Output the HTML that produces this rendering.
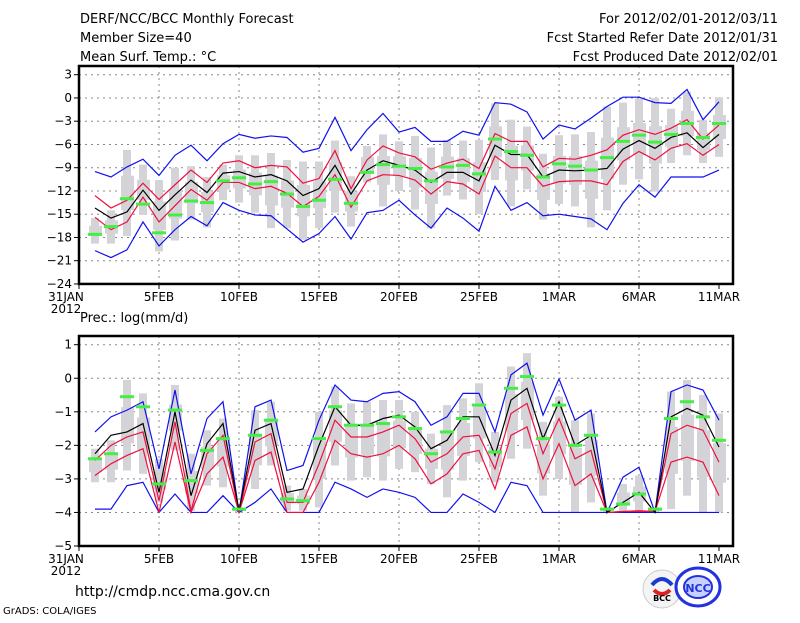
<!DOCTYPE html>
<html><head><meta charset="utf-8"><style>
body{margin:0;background:#fff;width:800px;height:618px;overflow:hidden}
svg text{font-family:"DejaVu Sans","Liberation Sans",sans-serif;fill:#000}
</style></head><body>
<svg id="s" width="800" height="618" xmlns="http://www.w3.org/2000/svg">
<text x="80" y="23" font-size="13">DERF/NCC/BCC Monthly Forecast</text>
<text x="80" y="42" font-size="13">Member Size=40</text>
<text x="80" y="61" font-size="13">Mean Surf. Temp.: °C</text>
<text x="778" y="23" font-size="13" text-anchor="end">For 2012/02/01-2012/03/11</text>
<text x="778" y="42" font-size="13" text-anchor="end">Fcst Started Refer Date 2012/01/31</text>
<text x="778" y="61" font-size="13" text-anchor="end">Fcst Produced Date 2012/02/01</text>
<text x="80" y="322" font-size="13">Prec.: log(mm/d)</text>
<text x="75" y="596" font-size="14">http://cmdp.ncc.cma.gov.cn</text>
<text x="3" y="614" font-size="10">GrADS: COLA/IGES</text>
<circle cx="662" cy="589" r="19" fill="#f4f4f4" stroke="#ccc"/>
<path d="M652 585 q10 -12 20 0" stroke="#1a3ad0" stroke-width="4" fill="none"/>
<path d="M654 590 q8 8 16 0" stroke="#e02020" stroke-width="4" fill="none"/>
<text x="662" y="601" font-size="8" text-anchor="middle" font-weight="bold">BCC</text>
<ellipse cx="698" cy="587" rx="22" ry="19" fill="#fff" stroke="#2233dd" stroke-width="3"/>
<ellipse cx="698" cy="587" rx="14" ry="11" fill="#c8d0ff" stroke="#2233dd" stroke-width="2"/>
<text x="698" y="592" font-size="11" text-anchor="middle" font-weight="bold" style="fill:#2233dd">NCC</text>
</svg>
<script>
const S=document.getElementById('s');const NS='http://www.w3.org/2000/svg';
function el(t,a){const e=document.createElementNS(NS,t);for(const k in a)e.setAttribute(k,a[k]);S.appendChild(e);return e}
function tx(x,y,s,anc,fs){const e=el('text',{x:x,y:y,'font-size':fs||12,'text-anchor':anc||'middle'});e.textContent=s;}
const X0=79,DX=16,XR=733;
function X(d){return X0+DX*d}
function plot(o){
 const Y=v=>o.y0+(o.vtop-v)*o.k;
 // grid
 for(let v=o.vtop;v>=o.vbot;v-=o.step){const y=Y(v);
  if(v>o.vbot) el('line',{x1:X0,x2:XR,y1:y,y2:y,stroke:'#888','stroke-dasharray':'2,4','stroke-width':1});
  el('line',{x1:X0-5,x2:X0,y1:y,y2:y,stroke:'#000'});
  tx(X0-7,y+4,(v<0?'−':'')+Math.abs(v),'end',12);}
 const lab=['5FEB','10FEB','15FEB','20FEB','25FEB','1MAR','6MAR','11MAR'];
 for(let i=1;i<=8;i++){const d=i*5,x=X(d);
  if(i<8)el('line',{x1:x,x2:x,y1:o.ft,y2:Y(o.vbot),stroke:'#888','stroke-dasharray':'2,4'});
  el('line',{x1:x,x2:x,y1:Y(o.vbot),y2:Y(o.vbot)+5,stroke:'#000'});
  tx(x,Y(o.vbot)+17,lab[i-1]);}
 el('line',{x1:X0,x2:X0,y1:Y(o.vbot),y2:Y(o.vbot)+5,stroke:'#000'});
 tx(X0-13,Y(o.vbot)+17,'31JAN');tx(X0-13,Y(o.vbot)+29,'2012');
 // bars
 for(let i=0;i<40;i++){const x=X(i+1),t=o.wt[i],b=o.wb[i];
  el('rect',{x:x-4,y:Y(t),width:8,height:Math.max(1,Y(b)-Y(t)),fill:'#d4d4d8'});
  const bt=t-(t-b)*0.3,bb=t-(t-b)*0.7;
  el('rect',{x:x-6,y:Y(bt),width:13,height:Y(bb)-Y(bt),fill:'#d4d4d8'});}
 const line=(a,c)=>el('polyline',{points:a.map((v,i)=>X(i+1)+','+Y(v)).join(' '),fill:'none',stroke:c,'stroke-width':1.2});
 line(o.bt,'#1010ee');line(o.bb,'#1010ee');line(o.rt,'#ee1040');line(o.rb,'#ee1040');line(o.k0,'#000');
 o.g.forEach((v,i)=>el('rect',{x:X(i+1)-7,y:Y(v)-1.5,width:14,height:3,fill:'#44ee44'}));
 el('rect',{x:X0,y:o.ft,width:XR-X0,height:Y(o.vbot)-o.ft,fill:'none',stroke:'#000','stroke-width':2.5});
}
plot({y0:74.7,vtop:3,vbot:-24,step:3,k:7.75,ft:66,
bt:[-9.5,-10.2,-8.9,-7.9,-10,-7.4,-6.1,-8.1,-5.9,-4.7,-5.2,-4.9,-5.1,-7,-6.5,-2.5,-6.8,-4.1,-2,-4.4,-3.8,-5.6,-5.6,-4.3,-4.8,-0.6,-0.8,-1.8,-5.3,-3.5,-4,-2.6,-1.1,0.1,0.1,-0.6,-0.7,1.1,-2.8,-0.5],
bb:[-19.7,-20.6,-19.6,-16,-19.1,-17,-15.3,-16.5,-13.5,-14.5,-15.1,-15.2,-16.9,-18.6,-17.5,-15.3,-18.2,-14.8,-14.5,-13.2,-15.1,-16.8,-14.2,-15.5,-17.2,-11.4,-14.5,-13.5,-15.2,-15,-15.3,-15.6,-17,-13.6,-11.2,-12.8,-10.2,-10.2,-10.2,-9.3],
rt:[-12.6,-14.2,-13.2,-11,-13.1,-11.2,-9.3,-10.9,-8.4,-8.1,-9,-8.7,-8.9,-11,-10.4,-6.8,-11.7,-8,-6.2,-7.1,-7.6,-9.2,-8.4,-7.9,-9.1,-4.6,-5.6,-5.6,-8.9,-7.8,-7.9,-7.4,-6.7,-4.8,-4.1,-4.7,-3.9,-2.8,-5.3,-3.5],
k0:[-14.2,-15.5,-14.7,-11.9,-14.5,-12.5,-10.6,-12.2,-9.7,-9.5,-10.2,-9.9,-10.7,-12.6,-11.7,-8.7,-12.4,-9.3,-8.1,-8.7,-9.3,-10.9,-9.6,-9.6,-10.7,-6.1,-7.3,-7.3,-10.2,-9.3,-9.4,-9.3,-9.1,-6.6,-5.5,-6.5,-5.1,-4.5,-6.4,-4.7],
rb:[-15.4,-17,-16,-12.8,-16,-13.9,-11.8,-13.2,-10.9,-10.9,-11.7,-11.4,-12.3,-14,-12.7,-9.9,-14.1,-10.7,-9.9,-10,-10.6,-12.4,-10.8,-11.1,-12.4,-7.5,-9,-9,-11.4,-10.8,-10.7,-10.7,-11.2,-8.2,-6.9,-8,-6.5,-5.9,-7.4,-6],
g:[-17.6,-16.6,-13,-13.7,-17.4,-15.1,-13.3,-13.5,-10.7,-10.3,-11.1,-10.8,-12.4,-14,-13.2,-10.5,-13.6,-9.6,-8.6,-8.8,-9.1,-10.7,-8.9,-8.7,-9.8,-5.3,-6.9,-7.4,-10.2,-8.5,-8.8,-9.3,-7.7,-5.6,-4.8,-5.7,-4.7,-3.3,-5.1,-3.3],
wt:[-15.5,-14.5,-6.7,-8.6,-10.6,-9,-8.8,-10.2,-8.6,-7.4,-7.4,-7.1,-8,-8.2,-8.2,-5.5,-10.1,-6.2,-4.7,-5.6,-4.9,-6.4,-5.4,-5.5,-5.4,-0.7,-2.8,-3.7,-7.2,-4.8,-4.7,-4.4,-1.1,-0.6,-0.1,0,-1.4,0.8,-2.8,0.1],
wb:[-18.8,-18.8,-17.8,-15.1,-19.8,-18.4,-15.7,-16.7,-13.2,-13.5,-14.8,-16.8,-16.8,-18.3,-16.8,-14.8,-16.6,-10.9,-14,-12,-14.4,-16.8,-12.6,-13.1,-15,-10.6,-14,-11.8,-15.7,-13.7,-14,-16.7,-14.5,-11.2,-10.5,-12.1,-8.4,-7.4,-8.4,-7.6]});
plot({y0:344.7,vtop:1,vbot:-5,step:1,k:33.55,ft:336,
bt:[-1.6,-1.15,-0.95,-0.7,-2.7,-0.35,-2.85,-1.2,-0.7,-4,-0.85,-0.65,-2.75,-2.6,-1.25,-0.2,-0.65,-0.7,-0.45,-0.4,-0.7,-1.4,-1.15,-0.45,-0.45,-1.6,0.1,0.45,-1.1,-0.02,-1.25,-0.95,-4,-2.95,-2.65,-4,-0.4,-0.2,-0.35,-1.25],
bb:[-3.9,-3.9,-3.2,-3.1,-4,-3.45,-4,-4,-3.5,-4,-3.7,-3.3,-4,-4,-4,-3.1,-3.3,-3.55,-3.3,-3.4,-3.55,-4,-4,-3.45,-3.7,-4,-3.1,-3.2,-4,-4,-4,-4,-4,-4,-4,-4,-4,-4,-4,-4],
rt:[-2.45,-2,-1.75,-1.6,-3.65,-1.3,-3.95,-2.25,-1.7,-4,-1.9,-1.65,-3.7,-3.7,-2.55,-1.25,-1.75,-1.75,-1.6,-1.4,-1.8,-2.5,-2.25,-1.75,-1.7,-2.7,-1.05,-0.75,-2.25,-1.2,-2.4,-2.15,-4,-3.97,-3.95,-3.97,-1.65,-1.4,-1.55,-2.5],
k0:[-2.25,-1.7,-1.6,-1.35,-3.4,-1,-3.5,-1.95,-1.35,-3.95,-1.55,-1.35,-3.4,-3.3,-2,-0.85,-1.4,-1.4,-1.2,-1.1,-1.45,-2.1,-1.85,-1.15,-1.15,-2.3,-0.65,-0.3,-1.8,-0.7,-2,-1.7,-4,-3.7,-3.4,-4,-1.15,-0.9,-1.1,-2.05],
rb:[-2.9,-2.55,-2.3,-2.1,-4,-1.9,-4,-2.85,-2.35,-4,-2.45,-2.2,-4,-4,-3.1,-1.85,-2.25,-2.35,-2.25,-2,-2.4,-3.15,-2.85,-2.25,-2.15,-3.3,-1.7,-1.45,-3,-1.95,-3.2,-2.85,-4,-3.97,-3.97,-3.97,-2.5,-2.35,-2.5,-3.5],
g:[-2.4,-2.25,-0.55,-0.85,-3.15,-0.95,-3.05,-2.15,-1.8,-3.9,-1.7,-1.25,-3.6,-3.65,-1.8,-0.85,-1.4,-1.4,-1.35,-1.15,-1.5,-2.25,-1.6,-1.2,-0.8,-2.2,-0.3,0.05,-1.8,-0.8,-2,-1.7,-3.9,-3.75,-3.45,-3.9,-1.2,-0.7,-1.15,-1.85],
wt:[-2.1,-1.85,-0.05,-0.45,-2.4,-0.2,-2.25,-1.55,-1.2,-3.85,-0.95,-0.7,-3.2,-3.3,-1,-0.25,-0.75,-0.7,-0.65,-0.65,-1,-1.65,-0.8,-0.6,-0.15,-1.6,0.35,0.75,-1.3,-0.55,-1.25,-1.05,-3.85,-3.15,-2.9,-3.85,-0.4,-0.05,-0.5,-1.05],
wb:[-3.1,-3.1,-2.75,-2.85,-3.7,-2.15,-3.95,-3.2,-3.25,-4,-3.3,-2.6,-3.95,-3.95,-3.85,-2.6,-3.05,-2.95,-3.05,-2.7,-2.8,-3.15,-3.55,-3.05,-2.5,-3.1,-2.4,-2.1,-3.5,-3,-4,-3.7,-4,-4,-4,-4,-3.9,-3.5,-4,-4]});
</script>
</body></html>
